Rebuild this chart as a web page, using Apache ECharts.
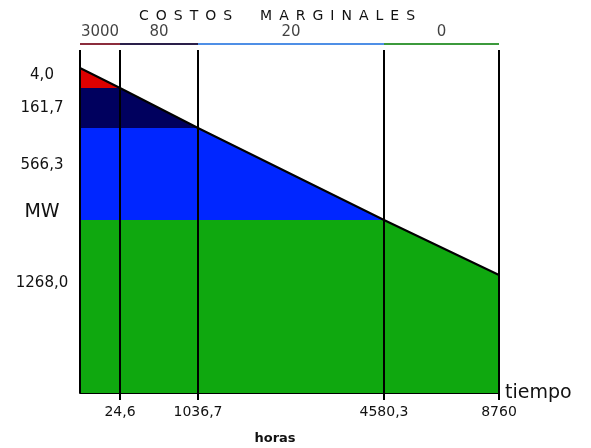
<!DOCTYPE html>
<html><head><meta charset="utf-8">
<script src="https://cdn.jsdelivr.net/npm/echarts@6/dist/echarts.min.js"></script>
<style>html,body{margin:0;padding:0;background:#fff}#c{width:591px;height:448px}</style>
</head><body><div id="c"></div>
<script>
// Break points of the load-duration curve (hours)
const hours = [0, 24.6, 1036.7, 4580.3, 8760];
const hourLabels = ['', '24,6', '1036,7', '4580,3', '8760'];
// Schematic (not to scale) position of each break on the time axis
const timeSlot = [0, 40, 118, 304, 419];
// Schematic height of the load curve at each break
const loadLevel = [325, 305, 265, 173, 118];
// Block sizes (MW), from top block to base block
const blockMW = ['4,0', '161,7', '566,3', '1268,0'];
// Schematic height where each block label sits
const blockLabelAt = [318, 285, 228, 110];
const unitLabelAt = 181;
// Marginal costs per block (top to base)
const costs = ['3000', '80', '20', '0'];

const fillColors = ['#dd0000', '#00005e', '#0026ff', '#0fa80f'];
const costColors = ['#8b2c3c', '#2a1f4a', '#4f8fe6', '#3c9a3c'];
const costLineY = 349;
const guideTop = 343;
const FONT = 'DejaVu Sans';

const series = [];
// Filled bands: each drawn from the base up to min(curve, band top)
for (let k = 0; k < 4; k++) {
  const pts = [[timeSlot[0], loadLevel[k]]];
  for (let j = Math.max(k, 1); j < timeSlot.length; j++) pts.push([timeSlot[j], loadLevel[j]]);
  series.push({
    type: 'line', data: pts, symbol: 'none', silent: true, z: 2 + k,
    lineStyle: { width: 0 }, areaStyle: { color: fillColors[k], opacity: 1 }
  });
}
// Load curve
series.push({
  type: 'line', symbol: 'none', z: 10, silent: true,
  data: timeSlot.map((t, i) => [t, loadLevel[i]]),
  lineStyle: { color: '#000', width: 2 }
});
// Vertical guide lines
series.push({
  type: 'line', data: [], z: 11, silent: true,
  markLine: {
    z: 20, symbol: 'none', silent: true, label: { show: false },
    lineStyle: { color: '#000', width: 2, type: 'solid' },
    data: timeSlot.map(t => [{ coord: [t, 0] }, { coord: [t, guideTop] }])
  }
});
// Marginal cost segments on top
for (let k = 0; k < 4; k++) {
  series.push({
    type: 'line', symbol: 'none', z: 12, silent: true,
    data: [[timeSlot[k], costLineY], [timeSlot[k + 1], costLineY]],
    lineStyle: { color: costColors[k], width: 2 }
  });
}
series.push({
  type: 'scatter', symbolSize: 0, z: 13, silent: true,
  data: costs.map((c, k) => ({ value: [(timeSlot[k] + timeSlot[k + 1]) / 2, costLineY], name: c })),
  label: { show: true, position: 'top', distance: 4, formatter: p => p.name, color: '#111', fontFamily: FONT, fontSize: 15 },
  clip: false
});

const yLabelMap = {};
blockLabelAt.forEach((v, i) => yLabelMap[v] = blockMW[i]);
yLabelMap[unitLabelAt] = '{mw|MW}';
const xLabelMap = {};
timeSlot.forEach((t, i) => xLabelMap[t] = hourLabels[i]);

const SP = '\u2002';
const spaced = w => w.split('').join(SP);
const titleText = spaced('COSTOS') + SP.repeat(4) + spaced('MARGINALES');

const chart = echarts.init(document.getElementById('c'));
chart.setOption({
  animation: false,
  title: [
    { text: titleText, left: 272, top: 4, textAlign: 'center',
      textStyle: { fontFamily: FONT, fontSize: 14, fontWeight: 'normal', color: '#111' } },
    { text: 'horas', left: 270, top: 427, textAlign: 'center',
      textStyle: { fontFamily: FONT, fontSize: 13, fontWeight: 'bold', color: '#111' } }
  ],
  grid: { left: 80, right: 92, top: 44, bottom: 55 },
  xAxis: {
    type: 'value', min: 0, max: 419,
    name: 'tiempo', nameLocation: 'end', nameGap: 6,
    nameTextStyle: { fontFamily: FONT, fontSize: 19, color: '#111' },
    axisLine: { show: true, lineStyle: { color: '#000', width: 2 } },
    axisTick: { show: true, customValues: timeSlot.slice(1), length: 7, lineStyle: { color: '#000', width: 2 } },
    axisLabel: { customValues: timeSlot.slice(1), formatter: v => xLabelMap[v] || '', margin: 12,
      fontFamily: FONT, fontSize: 14, color: '#111' },
    splitLine: { show: false }
  },
  yAxis: {
    type: 'value', min: 0, max: 349,
    axisLine: { show: false }, axisTick: { show: false }, splitLine: { show: false },
    axisLabel: {
      customValues: blockLabelAt.concat([unitLabelAt]),
      formatter: v => yLabelMap[v] || '', align: 'center', margin: 38,
      fontFamily: FONT, fontSize: 15, color: '#111',
      rich: { mw: { fontFamily: FONT, fontSize: 19, color: '#111' } }
    }
  },
  series
});
</script></body></html>
